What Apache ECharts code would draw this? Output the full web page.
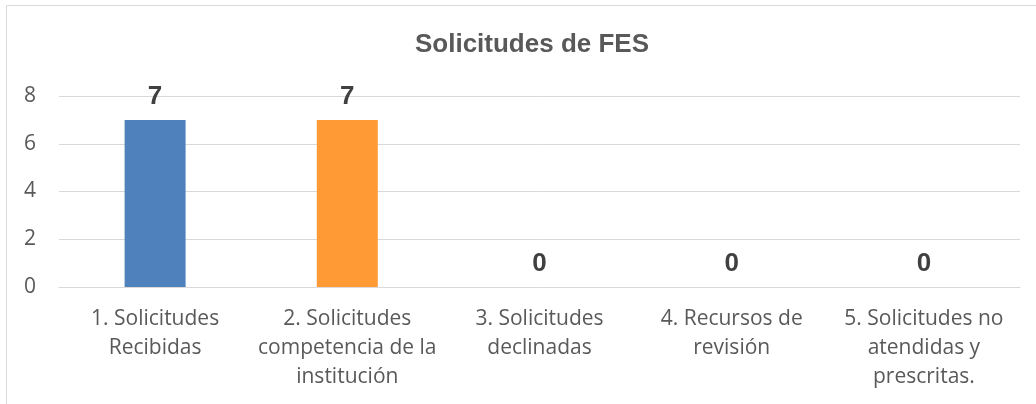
<!DOCTYPE html>
<html>
<head>
<meta charset="utf-8">
<script src="https://cdn.jsdelivr.net/npm/echarts@6/dist/echarts.min.js"></script>
<style>
html,body{margin:0;padding:0;background:#fff;}
#c{width:1036px;height:404px;}
</style>
</head>
<body>
<div id="c"></div>
<script>
var categories = [
  "1. Solicitudes\nRecibidas",
  "2. Solicitudes\ncompetencia de la\ninstitución",
  "3. Solicitudes\ndeclinadas",
  "4. Recursos de\nrevisión",
  "5. Solicitudes no\natendidas y\nprescritas."
];
var values = [7, 7, 0, 0, 0];
var barColors = ["#4F81BD", "#FF9A35", "#A5A5A5", "#FFC000", "#5B9BD5"];
var yTicks = { min: 0, max: 8, interval: 2 };

var chart = echarts.init(document.getElementById('c'), null, {renderer: 'canvas'});
chart.setOption({
  animation: false,
  backgroundColor: '#fff',
  title: {
    text: 'Solicitudes de FES',
    left: 527, top: 27, textAlign: 'center',
    textStyle: {fontFamily: 'Liberation Sans', fontWeight: 'bold', fontSize: 26, color: '#595959'}
  },
  graphic: [{
    type: 'rect', silent: true,
    shape: {x: 6.5, y: 5.5, width: 1100, height: 500},
    style: {fill: 'none', stroke: '#d9d9d9', lineWidth: 1}
  }],
  grid: {left: 59, right: 16, top: 96, bottom: 117, containLabel: false},
  xAxis: {
    type: 'category',
    data: categories,
    axisLine: {show: true, lineStyle: {color: '#d9d9d9', width: 1}},
    axisTick: {show: false},
    axisLabel: {
      interval: 0, margin: 18, lineHeight: 29,
      fontFamily: 'Open Sans', fontSize: 21, color: '#595959'
    }
  },
  yAxis: {
    type: 'value',
    min: yTicks.min, max: yTicks.max, interval: yTicks.interval,
    axisLine: {show: false},
    axisTick: {show: false},
    axisLabel: {margin: 23, fontFamily: 'Open Sans', fontSize: 21, color: '#595959'},
    splitLine: {lineStyle: {color: '#d9d9d9', width: 1}}
  },
  series: [{
    type: 'bar',
    barWidth: 61,
    data: values.map(function (v, i) { return {value: v, itemStyle: {color: barColors[i]}}; }),
    label: {
      show: true, position: 'top', distance: 10,
      fontFamily: 'Liberation Sans', fontWeight: 'bold', fontSize: 26, color: '#404040'
    }
  }]
});
</script>
</body>
</html>
